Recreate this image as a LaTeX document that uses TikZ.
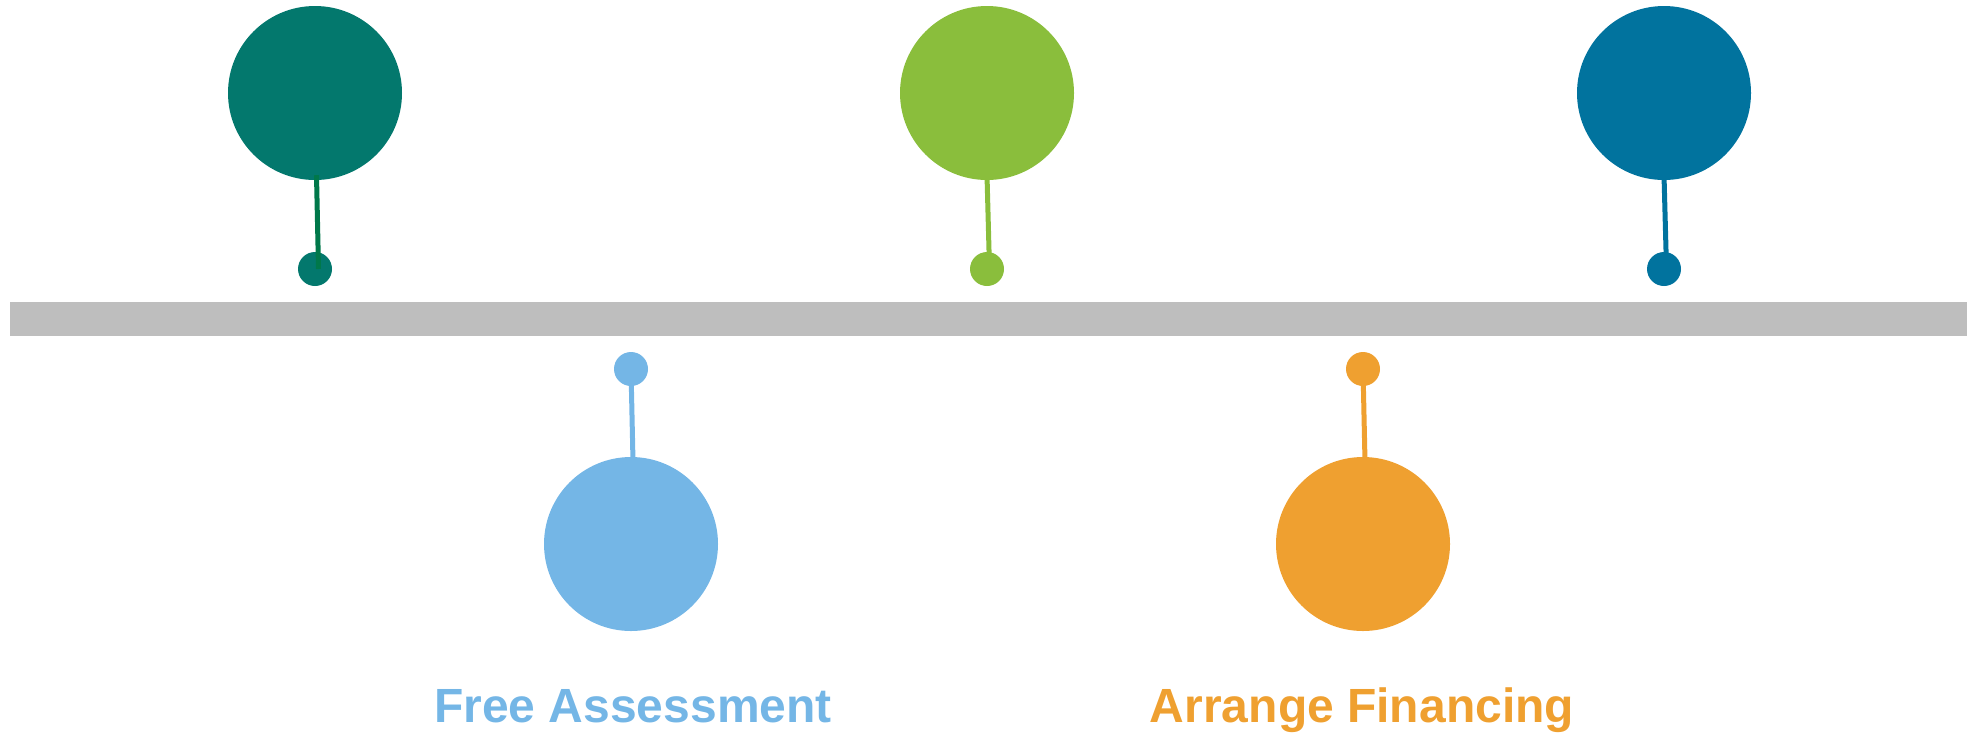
\documentclass[tikz,border=0pt]{standalone}
\usepackage{fontspec}
\setmainfont{Liberation Sans}
\usetikzlibrary{calc}
\usetikzlibrary{positioning}

\definecolor{tealc}{HTML}{03786D}
\definecolor{tealline}{HTML}{00784A}
\definecolor{greenc}{HTML}{8ABE3C}
\definecolor{bluec}{HTML}{01739E}
\definecolor{skyc}{HTML}{74B6E6}
\definecolor{orangec}{HTML}{EFA030}
\definecolor{barc}{HTML}{BEBEBE}

\tikzset{
  bigdot/.style={circle, inner sep=0pt, minimum size=174pt},
  smalldot/.style={circle, inner sep=0pt, minimum size=34pt},
  stem/.style={line width=5pt},
  steplabel/.style={anchor=base, inner sep=0pt, font=\fontsize{48}{58}\selectfont\bfseries},
}

\begin{document}
\begin{tikzpicture}[x=1pt,y=-1pt]
\useasboundingbox (0,0) rectangle (1967,732);

% timeline bar
\fill[barc] (10,302) rectangle (1967,336);

% upper pins
\node[bigdot, fill=tealc] (top1) at (315,93) {};
\node[smalldot, fill=tealc] (pin1) at (315,269) {};
\draw[stem, tealline] ($(top1.south)+(1.5,-5)$) -- ($(pin1.center)+(3.5,0)$);

\node[bigdot, fill=greenc] (top3) at (987,93) {};
\node[smalldot, fill=greenc] (pin3) at (987,269) {};
\draw[stem, greenc] ($(top3.south)+(0,-5)$) -- ($(pin3.center)+(2.5,0)$);

\node[bigdot, fill=bluec] (top5) at (1664,93) {};
\node[smalldot, fill=bluec] (pin5) at (1664,269) {};
\draw[stem, bluec] ($(top5.south)+(0,-5)$) -- ($(pin5.center)+(2.5,0)$);

% lower pins
\node[smalldot, fill=skyc] (pin2) at (631,369) {};
\node[bigdot, fill=skyc] (bot2) at (631,544) {};
\draw[stem, skyc] (pin2.center) -- ($(bot2.north)+(2,5)$);

\node[smalldot, fill=orangec] (pin4) at (1363,369) {};
\node[bigdot, fill=orangec] (bot4) at (1363,544) {};
\draw[stem, orangec] (pin4.center) -- ($(bot4.north)+(2,5)$);

% labels
\node[steplabel, text=skyc] (lab2) at (633,722) {Free Assessment};
\node[steplabel, text=orangec] (lab4) at (1362,722) {Arrange Financing};
\end{tikzpicture}
\end{document}
